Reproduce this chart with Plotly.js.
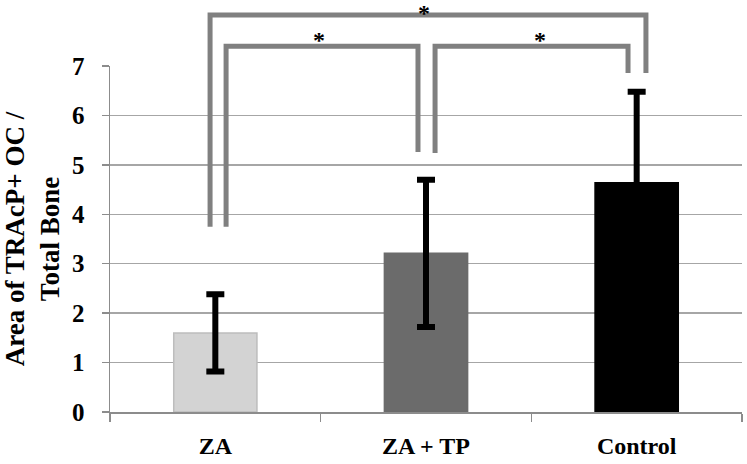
<!DOCTYPE html>
<html>
<head>
<meta charset="utf-8">
<script src="https://cdn.plot.ly/plotly-3.0.1.min.js"></script>
<style>
  body { margin: 0; background: #fff; }
  #chart { width: 747px; height: 464px; }
</style>
</head>
<body>
<div id="chart"></div>
<script>
var groups = ['ZA', 'ZA + TP', 'Control'];
var means = [1.6, 3.21, 4.64];
var errors = [0.78, 1.49, 1.84];
var barColors = ['#d3d3d3', '#6b6b6b', '#000000'];
var barEdges = ['#bdbdbd', '#6b6b6b', '#000000'];
var yTicks = [0, 1, 2, 3, 4, 5, 6, 7];

// significance brackets: [left x, right x, left foot, right foot, top]  (x = category index, y = data units)
var brackets = [
    [-0.025, 2.044, 3.75, 6.86, 8.03],
    [0.051, 0.962, 3.75, 5.26, 7.4],
    [1.043, 1.959, 5.24, 6.86, 7.4]
];
var starX = [0.99, 0.492, 1.541];
var starTop = [8.36, 7.8, 7.8];

var yMax = 7;
var serif = 'Liberation Serif';

var trace1 = {
    x: groups,
    y: means,
    type: 'bar',
    width: 0.395,
    marker: {
        color: barColors,
        line: { color: barEdges, width: 1.5 }
    },
    error_y: {
        type: 'data',
        array: errors,
        visible: true,
        color: '#000000',
        thickness: 6,
        width: 9
    },
    hoverinfo: 'none'
};

var shapes = brackets.map(function (b) {
    return {
        type: 'path',
        xref: 'x',
        yref: 'paper',
        path: 'M ' + b[0] + ',' + (b[2] / yMax) +
              ' L ' + b[0] + ',' + (b[4] / yMax) +
              ' L ' + b[1] + ',' + (b[4] / yMax) +
              ' L ' + b[1] + ',' + (b[3] / yMax),
        line: { color: '#808080', width: 5 }
    };
});

var annotations = starX.map(function (x, i) {
    return {
        xref: 'x',
        yref: 'paper',
        x: x,
        y: starTop[i] / yMax,
        text: '<b>*</b>',
        showarrow: false,
        xanchor: 'center',
        yanchor: 'top',
        borderpad: 0,
        font: { family: serif, size: 24, color: '#000' }
    };
});

var layout = {
    width: 747,
    height: 464,
    margin: { l: 110, r: 5, t: 66, b: 52 },
    paper_bgcolor: '#ffffff',
    plot_bgcolor: '#ffffff',
    showlegend: false,
    font: { family: serif, size: 24, color: '#000' },
    xaxis: {
        type: 'category',
        range: [-0.5, 2.5],
        tickvals: groups,
        ticktext: groups.map(function (g) { return '<b>' + g + '</b>'; }),
        showline: true,
        linecolor: '#8c8c8c',
        linewidth: 1.5,
        ticks: 'outside',
        tickson: 'boundaries',
        ticklen: 8,
        tickcolor: '#8c8c8c',
        tickwidth: 1.5,
        ticklabelstandoff: 12,
        tickfont: { family: serif, size: 24 },
        showgrid: false
    },
    yaxis: {
        range: [0, yMax],
        tickvals: yTicks,
        ticktext: yTicks.map(function (t) { return '<b>' + t + '</b>'; }),
        showline: true,
        linecolor: '#8c8c8c',
        linewidth: 1.5,
        ticks: 'outside',
        ticklen: 7,
        tickcolor: '#8c8c8c',
        tickwidth: 1.5,
        ticklabelstandoff: 12,
        tickfont: { family: serif, size: 25 },
        showgrid: true,
        gridcolor: '#a6a6a6',
        gridwidth: 1.5,
        zeroline: false,
        title: {
            text: '<b>Area of TRAcP+ OC /<br>Total Bone</b>',
            font: { family: serif, size: 27 },
            standoff: 16
        }
    },
    shapes: shapes,
    annotations: annotations
};

Plotly.newPlot('chart', [trace1], layout, { displayModeBar: false, staticPlot: true });
</script>
</body>
</html>
